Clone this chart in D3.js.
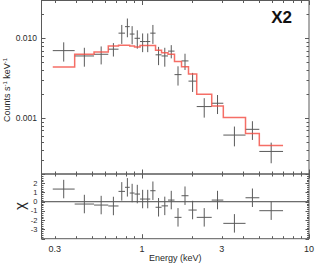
<!DOCTYPE html>
<html><head><meta charset="utf-8">
<script src="https://cdn.jsdelivr.net/npm/d3@7"></script>
<style>
html,body{margin:0;padding:0;background:#fff;}
svg{display:block;font-family:"Liberation Sans",Arial,Helvetica,sans-serif;}
</style></head>
<body>
<svg id="c" width="315" height="271"></svg>
<script>
// ---- data ----
const binEdges = [0.292,0.395,0.516,0.628,0.723,0.791,0.844,0.902,0.973,1.045,1.120,1.205,1.309,1.431,1.565,1.724,1.898,2.126,2.615,3.068,4.167,5.04,6.99];
const rate    = [0.0070,0.0060,0.0063,0.0073,0.0116,0.0140,0.0113,0.0100,0.0091,0.0091,0.0116,0.0062,0.0060,0.0069,0.0035,0.0052,0.0029,0.00139,0.00153,0.00061,0.00072,0.00038];
const rateErr = [0.0019,0.0016,0.0016,0.0014,0.0031,0.0037,0.0029,0.0026,0.0024,0.0024,0.0031,0.0016,0.0016,0.0013,0.00095,0.0012,0.00078,0.00038,0.00041,0.00017,0.00019,0.00011];
const model   = [0.00436,0.0063,0.00675,0.0080,0.0082,0.0082,0.0080,0.0078,0.0081,0.0081,0.0081,0.0071,0.0066,0.0063,0.0051,0.0044,0.00357,0.00198,0.00141,0.00101,0.00064,0.00045];
const chi     = [1.37,-0.25,-0.36,-0.46,1.12,1.56,0.94,0.83,0.29,0.29,1.19,-0.6,-0.45,0.18,-1.69,0.65,-0.9,-1.69,0.18,-2.34,0.43,-0.97];
const chiErr  = [1,1,1,1,1,1,1,1,1,1,1,1,1,1,1,1,1,1,1,1,1,1];
const xTickLabels = [0.3, 1, 3, 10];
const yTickLabels = [0.001, 0.010];
const chiTickLabels = [2, 1, 0, -1, -2, -3];
const panelLabel = "X2";

// ---- layout ----
const L = 41.5, R = 309, T = 0.5, MID = 174, B = 238.7;
const svg = d3.select("#c");
const x = d3.scaleLog().domain([0.25, 10]).range([L, R]);
const y = d3.scaleLog().domain([0.000198, 0.0298]).range([MID, T]);
const yc = d3.scaleLinear().domain([-4, 3]).range([B, MID]);

const frameCol = "#5a5a5a", crossCol = "#5a5a5a", textCol = "#2a2a2a";

// data table
const bins = rate.map((r, i) => ({lo: binEdges[i], hi: binEdges[i+1], c: Math.sqrt(binEdges[i]*binEdges[i+1]),
  r, e: rateErr[i], m: model[i], chi: chi[i], ce: chiErr[i]}));

// ---- ticks ----
const xMinor = [];
for (const dec of [0.1, 1]) for (let m = 1; m <= 9; m++) { const v = m*dec; if (v >= 0.25 && v <= 10) xMinor.push(v); }
xMinor.push(10);
const isMajor = v => Math.abs(Math.log10(v) - Math.round(Math.log10(v))) < 1e-9;

const yMinor = [];
for (const dec of [0.0001, 0.001, 0.01]) for (let m = 1; m <= 9; m++) { const v = m*dec; if (v >= 0.000198 && v <= 0.0298) yMinor.push(v); }

const g = svg.append("g");
function tick(x1,y1,x2,y2){ g.append("line").attr("x1",x1).attr("y1",y1).attr("x2",x2).attr("y2",y2).attr("stroke",frameCol).attr("stroke-width",1); }

xMinor.forEach(v => {
  const px = Math.round(x(v)) + 0.5, len = isMajor(v) ? 4.5 : 2.5;
  tick(px, T, px, T + len);
  tick(px, MID, px, MID - len);
  tick(px, MID, px, MID + len);
  tick(px, B, px, B - len);
});
yMinor.forEach(v => {
  const py = Math.round(y(v)) + 0.5, len = isMajor(v) ? 4 : 2.5;
  tick(L, py, L + len, py);
  tick(R, py, R - len, py);
});
d3.range(-4, 3.001, 0.2).forEach(v => {
  const py = Math.round(yc(v)) + 0.5, major = Math.abs(v - Math.round(v)) < 1e-6, len = major ? 3.5 : 2;
  tick(L, py, L + len, py);
  tick(R, py, R - len, py);
});

g.append("rect").attr("x", L).attr("y", T).attr("width", R - L).attr("height", MID - T).attr("fill","none").attr("stroke",frameCol);
g.append("rect").attr("x", L).attr("y", MID).attr("width", R - L).attr("height", B - MID).attr("fill","none").attr("stroke",frameCol);
g.append("line").attr("x1",L).attr("x2",R).attr("y1",yc(0)).attr("y2",yc(0)).attr("stroke","#444").attr("stroke-width",1);

// ---- crosses upper ----
const up = svg.append("g").attr("stroke", crossCol).attr("stroke-width", 1).attr("fill","none");
up.selectAll("line.h").data(bins).join("line").attr("x1", d => x(d.lo)).attr("x2", d => x(d.hi)).attr("y1", d => y(d.r)).attr("y2", d => y(d.r));
up.selectAll("line.v").data(bins).join("line").attr("class","v").attr("x1", d => x(d.c)).attr("x2", d => x(d.c)).attr("y1", d => y(d.r + d.e)).attr("y2", d => y(Math.max(d.r - d.e, 1e-6)));

// model step line
const stepPts = [];
bins.forEach(d => { stepPts.push([x(d.lo), y(d.m)]); stepPts.push([x(d.hi), y(d.m)]); });
svg.append("path").attr("d", d3.line()(stepPts)).attr("fill","none").attr("stroke","#f24a40").attr("stroke-width",1.5).attr("stroke-opacity",0.8);

// ---- crosses chi ----
const lo = svg.append("g").attr("stroke", crossCol).attr("stroke-width", 1).attr("fill","none");
lo.selectAll("line.h").data(bins).join("line").attr("x1", d => x(d.lo)).attr("x2", d => x(d.hi)).attr("y1", d => yc(d.chi)).attr("y2", d => yc(d.chi));
lo.selectAll("line.v").data(bins).join("line").attr("class","v").attr("x1", d => x(d.c)).attr("x2", d => x(d.c)).attr("y1", d => yc(d.chi + d.ce)).attr("y2", d => yc(d.chi - d.ce));

// ---- labels ----
const t = svg.append("g").attr("fill", textCol);
t.selectAll("text.xl").data(xTickLabels).join("text").attr("x", d => x(d)).attr("y", 251.5)
  .attr("text-anchor","middle").attr("font-size", 9).text(d => String(d));
t.append("text").attr("x", (L+R)/2).attr("y", 260.5).attr("text-anchor","middle").attr("font-size", 9).text("Energy (keV)");
t.selectAll("text.yl").data(yTickLabels).join("text").attr("x", 37).attr("y", d => y(d) + 3)
  .attr("text-anchor","end").attr("font-size", 8.5).text(d => d.toFixed(3));
t.selectAll("text.cl").data(chiTickLabels).join("text").attr("x", 37.5).attr("y", d => yc(d) + 2.5)
  .attr("text-anchor","end").attr("font-size", 7.5).text(d => String(d));
const yt = t.append("text").attr("transform", "translate(9.5,90) rotate(-90)").attr("text-anchor","middle").attr("font-size", 9);
yt.append("tspan").text("Counts s");
yt.append("tspan").attr("dy", -3).attr("font-size", 6).text("-1");
yt.append("tspan").attr("dy", 3).text(" keV");
yt.append("tspan").attr("dy", -3).attr("font-size", 6).text("-1");
t.append("text").attr("transform", "translate(24.5,206) rotate(-90)").attr("text-anchor","middle").attr("font-size", 15).text("χ");
t.append("text").attr("x", 292).attr("y", 23.3).attr("text-anchor","end").attr("font-size", 17).attr("font-weight","bold").attr("fill","#111").text(panelLabel);
</script>
</body></html>
